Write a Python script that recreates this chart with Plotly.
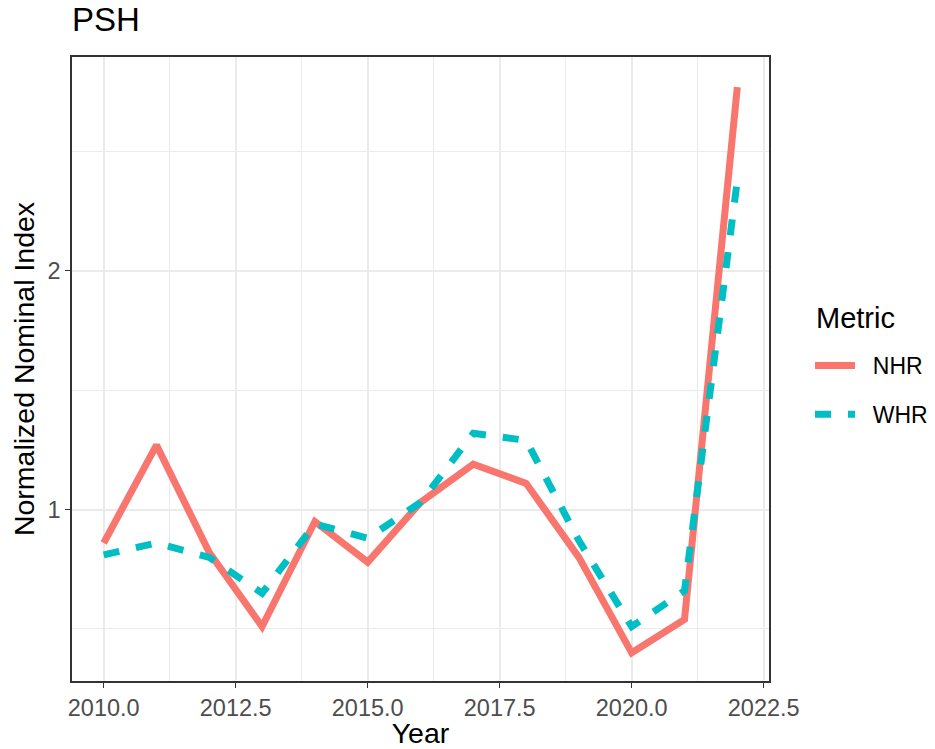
import plotly.graph_objects as go

years = [2010, 2011, 2012, 2013, 2014, 2015, 2016, 2017, 2018, 2019, 2020, 2021, 2022]
nhr = [0.86, 1.27, 0.82, 0.51, 0.95, 0.78, 1.03, 1.19, 1.11, 0.80, 0.40, 0.54, 2.77]
whr = [0.81, 0.86, 0.80, 0.65, 0.94, 0.88, 1.03, 1.32, 1.29, 0.87, 0.51, 0.66, 2.38]
x_ticks = [2010.0, 2012.5, 2015.0, 2017.5, 2020.0, 2022.5]
x_tick_labels = ["2010.0", "2012.5", "2015.0", "2017.5", "2020.0", "2022.5"]
y_ticks = [1, 2]
y_tick_labels = ["1", "2"]

FONT = "Liberation Sans, Arial, sans-serif"
GRID = "#EBEBEB"
NB = "\u00a0\u00a0"

# page body has an 8px margin, so the figure is drawn 8px in from the window edge
OFF = 8
W, H = 935 - OFF, 749 - OFF
L, R, T, B = 72 - OFF, 166, 57 - OFF, 68
PW, PH = W - L - R, H - T - B

fig = go.Figure()
fig.add_trace(go.Scatter(x=years, y=nhr, mode="lines", name=NB + "NHR", legendgroup="a",
                         line=dict(color="#F8766D", width=7)))
fig.add_trace(go.Scatter(x=years, y=whr, mode="lines", name=NB + "WHR", legendgroup="b",
                         line=dict(color="#00BFC4", width=7, dash="16px,17px")))

fig.update_layout(
    width=W, height=H,
    margin=dict(l=L, r=R, t=T, b=B),
    paper_bgcolor="white", plot_bgcolor="white",
    font=dict(family=FONT, color="black"),
    title=dict(text="PSH", font=dict(size=33, color="black"),
               x=0, xref="paper", xanchor="left", y=1, yref="container", yanchor="top",
               pad=dict(t=0, b=0, l=0, r=0)),
    legend=dict(font=dict(size=23, color="black"),
                xref="container", yref="container", x=(810 - OFF) / W, xanchor="left",
                y=1 - (344 - OFF) / H, yanchor="top", tracegroupgap=16, itemwidth=40,
                bgcolor="rgba(0,0,0,0)"),
    showlegend=True,
    annotations=[dict(text="Metric", xref="paper", yref="paper",
                      x=(814 - 72) / PW, y=(681 - 318) / PH,
                      xanchor="left", yanchor="middle", showarrow=False,
                      font=dict(size=29, color="black", family=FONT))],
)
fig.update_xaxes(
    range=[2009.4, 2022.6], tickvals=x_ticks, ticktext=x_tick_labels,
    tickfont=dict(size=23.5, color="#4D4D4D"),
    ticks="outside", ticklen=5, tickwidth=1.2, tickcolor="#333333",
    showgrid=True, gridcolor=GRID, gridwidth=1.5,
    minor=dict(tickvals=[2011.25, 2013.75, 2016.25, 2018.75, 2021.25], showgrid=True, gridcolor=GRID, gridwidth=0.8, ticks=""),
    showline=True, linecolor="#333333", linewidth=1.5, mirror=True, zeroline=False,
    automargin=False,
    title=dict(text="Year", font=dict(size=28.5, color="black"), standoff=2),
)
fig.update_yaxes(
    range=[0.282, 2.896], tickvals=y_ticks, ticktext=y_tick_labels,
    tickfont=dict(size=23.5, color="#4D4D4D"),
    ticks="outside", ticklen=5, tickwidth=1.2, tickcolor="#333333",
    showgrid=True, gridcolor=GRID, gridwidth=1.5,
    minor=dict(tickvals=[0.5, 1.5, 2.5], showgrid=True, gridcolor=GRID, gridwidth=0.8, ticks=""),
    showline=True, linecolor="#333333", linewidth=1.5, mirror=True, zeroline=False,
    automargin=False,
    title=dict(text="Normalized Nominal Index", font=dict(size=28.5, color="black"), standoff=6),
)

fig.write_html("out.html")
